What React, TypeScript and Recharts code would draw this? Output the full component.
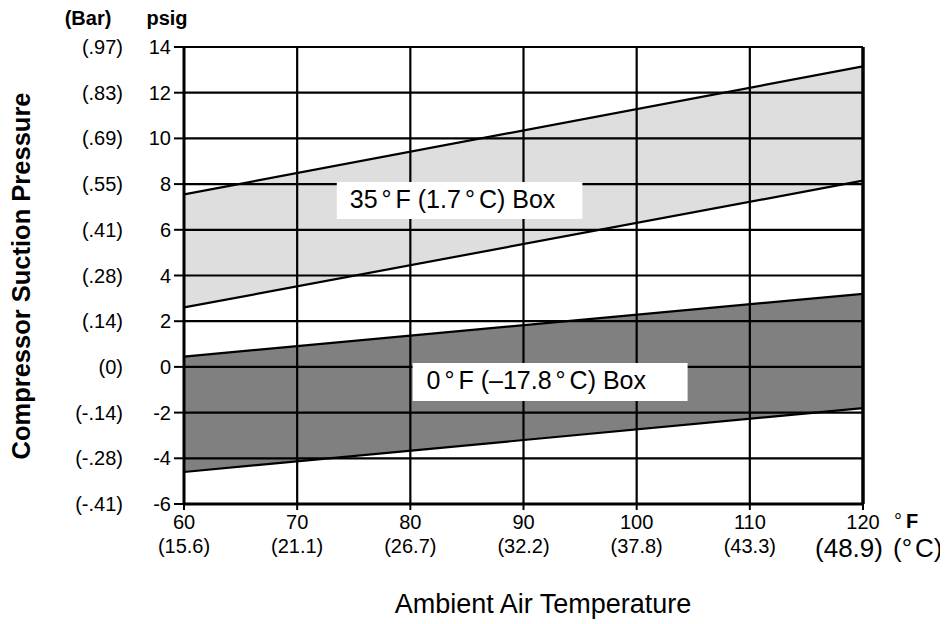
import React from "react";
import {
  ComposedChart,
  Area,
  Line,
  XAxis,
  YAxis,
  ReferenceLine,
  ReferenceArea,
  Label,
} from "recharts";

const temps = [60, 120];
const box35High = [7.55, 13.15];
const box35Low = [2.6, 8.15];
const box0High = [0.45, 3.2];
const box0Low = [-4.6, -1.8];

const fTicks = [60, 70, 80, 90, 100, 110, 120];
const cTickLabels = ["(15.6)", "(21.1)", "(26.7)", "(32.2)", "(37.8)", "(43.3)", "(48.9)"];
const psigTicks = [-6, -4, -2, 0, 2, 4, 6, 8, 10, 12, 14];
const barTickLabels = ["(-.41)", "(-.28)", "(-.14)", "(0)", "(.14)", "(.28)", "(.41)", "(.55)", "(.69)", "(.83)", "(.97)"];
const gridX = [70, 80, 90, 100, 110];
const gridY = [-4, -2, 0, 2, 4, 6, 8, 10, 12, 14];

const data = temps.map((t, i) => ({
  t,
  b35: [box35Low[i], box35High[i]],
  b0: [box0Low[i], box0High[i]],
  hi35: box35High[i],
  lo35: box35Low[i],
  hi0: box0High[i],
  lo0: box0Low[i],
}));

const FONT = "'Liberation Sans', Arial, Helvetica, sans-serif";

const YTick = (props: any) => {
  const { x, y, payload } = props;
  const idx = psigTicks.indexOf(payload.value);
  return (
    <g>
      <text x={x - 1} y={y} dy={7} textAnchor="end" fontSize={20} fontFamily={FONT} fill="#000">
        {payload.value}
      </text>
      <text x={123} y={y} dy={7} textAnchor="end" fontSize={20} fontFamily={FONT} fill="#000">
        {barTickLabels[idx]}
      </text>
    </g>
  );
};

const XTick = (props: any) => {
  const { x, y, payload } = props;
  const idx = fTicks.indexOf(payload.value);
  const last = idx === fTicks.length - 1;
  return (
    <g>
      <text x={x} y={y} dy={17} textAnchor="middle" fontSize={20} fontFamily={FONT} fill="#000">
        {payload.value}
      </text>
      <text
        x={last ? x - 14 : x}
        y={y}
        dy={last ? 45 : 41}
        textAnchor="middle"
        fontSize={last ? 26 : 20}
        fontFamily={FONT}
        fill="#000"
      >
        {cTickLabels[idx]}
      </text>
    </g>
  );
};

const Extras = () => (
  <g fontFamily={FONT} fill="#000">
    <text x={88} y={25} textAnchor="middle" fontSize={20} fontWeight="bold">(Bar)</text>
    <text x={167} y={25} textAnchor="middle" fontSize={20} fontWeight="bold">psig</text>
    <text
      x={30}
      y={276}
      transform="rotate(-90 30 276)"
      textAnchor="middle"
      fontSize={25.5}
      fontWeight="bold"
    >
      Compressor Suction Pressure
    </text>
    <text x={894} y={528} fontSize={20}>
      °
      <tspan dx={4} fontWeight="bold">F</tspan>
    </text>
    <text x={893} y={557} fontSize={26}>
      (°<tspan dx={3}>C)</tspan>
    </text>
    <text x={543} y={613} textAnchor="middle" fontSize={27}>Ambient Air Temperature</text>
  </g>
);

const BoxLabel = (parts: string[], pad: number) => (props: any) => {
  const vb = props.viewBox || {};
  return (
    <text
      x={vb.x + pad}
      y={vb.y + vb.height / 2}
      dy={7}
      textAnchor="start"
      fontSize={25}
      fontFamily={FONT}
      fill="#000"
    >
      {parts.map((p, i) => (
        <tspan key={i} dx={i === 0 ? 0 : 4}>
          {p}
        </tspan>
      ))}
    </text>
  );
};

export default function App() {
  return (
    <div style={{ margin: "-8px 0 0 -8px", width: 948, height: 624, background: "#fff" }}>
      <ComposedChart
        width={948}
        height={624}
        data={data}
        margin={{ top: 47, right: 85, left: 0, bottom: 0 }}
      >
        <XAxis
          dataKey="t"
          type="number"
          domain={[60, 120]}
          ticks={fTicks}
          tick={<XTick />}
          tickSize={6}
          tickLine={{ stroke: "#000", strokeWidth: 2 }}
          axisLine={{ stroke: "#000", strokeWidth: 3 }}
          height={120}
          interval={0}
          allowDataOverflow
        />
        <YAxis
          type="number"
          domain={[-6, 14]}
          ticks={psigTicks}
          tick={<YTick />}
          tickSize={10}
          tickLine={{ stroke: "#000", strokeWidth: 2 }}
          axisLine={{ stroke: "#000", strokeWidth: 3 }}
          width={184}
          interval={0}
          allowDataOverflow
        >
          <Label content={<Extras />} />
        </YAxis>
        <Area
          dataKey="b35"
          type="linear"
          fill="#dedede"
          fillOpacity={1}
          stroke="none"
          isAnimationActive={false}
          activeDot={false}
        />
        <Area
          dataKey="b0"
          type="linear"
          fill="#808080"
          fillOpacity={1}
          stroke="none"
          isAnimationActive={false}
          activeDot={false}
        />
        {gridX.map((v) => (
          <ReferenceLine key={"gx" + v} x={v} stroke="#000" strokeWidth={2.2} zIndex={450} />
        ))}
        {gridY.map((v) => (
          <ReferenceLine key={"gy" + v} y={v} stroke="#000" strokeWidth={2.2} zIndex={450} />
        ))}
        <ReferenceLine x={120} stroke="#000" strokeWidth={3.5} zIndex={450} />
        <Line dataKey="hi35" type="linear" stroke="#000" strokeWidth={2.2} dot={false} isAnimationActive={false} activeDot={false} />
        <Line dataKey="lo35" type="linear" stroke="#000" strokeWidth={2.2} dot={false} isAnimationActive={false} activeDot={false} />
        <Line dataKey="hi0" type="linear" stroke="#000" strokeWidth={2.2} dot={false} isAnimationActive={false} activeDot={false} />
        <Line dataKey="lo0" type="linear" stroke="#000" strokeWidth={2.2} dot={false} isAnimationActive={false} activeDot={false} />
        <ReferenceArea
          x1={73.5}
          x2={95.2}
          y1={6.47}
          y2={8.09}
          fill="#fff"
          fillOpacity={1}
          stroke="none"
          zIndex={500}
          label={BoxLabel(["35", "°", "F (1.7", "°", "C) Box"], 13)}
        />
        <ReferenceArea
          x1={80.2}
          x2={104.5}
          y1={-1.49}
          y2={0.17}
          fill="#fff"
          fillOpacity={1}
          stroke="none"
          zIndex={500}
          label={BoxLabel(["0", "°", "F (–17.8", "°", "C) Box"], 14)}
        />
      </ComposedChart>
    </div>
  );
}
